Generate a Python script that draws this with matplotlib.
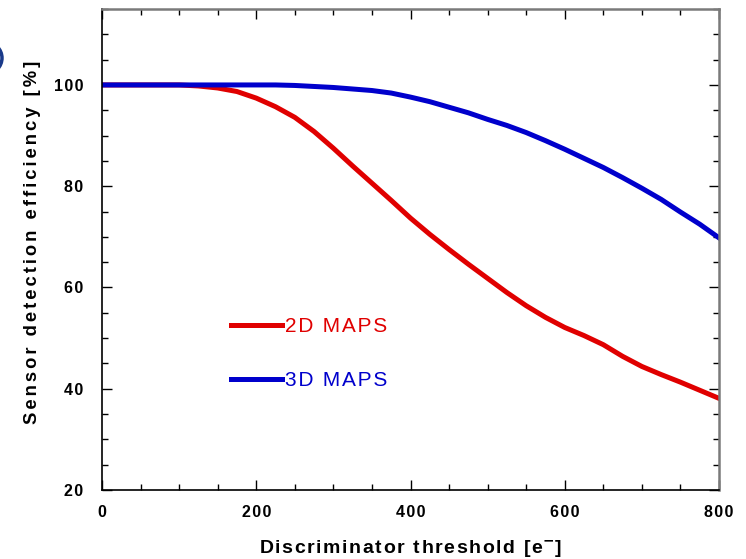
import matplotlib
matplotlib.use("Agg")
import matplotlib.pyplot as plt
from matplotlib.ticker import MultipleLocator
from matplotlib.patches import Circle

# Data
threshold = [0, 25, 50, 75, 100, 125, 150, 175, 200, 225, 250, 275, 300, 325, 350, 375, 400,
             425, 450, 475, 500, 525, 550, 575, 600, 625, 650, 675, 700, 725, 750, 775, 800]
eff_2d = [100.0, 100.0, 100.0, 100.0, 100.0, 99.8, 99.4, 98.7, 97.4, 95.7, 93.6, 90.8, 87.5, 84.0, 80.6, 77.2, 73.7,
          70.5, 67.5, 64.6, 61.8, 59.0, 56.4, 54.1, 52.1, 50.5, 48.7, 46.4, 44.4, 42.8, 41.3, 39.7, 38.1]
eff_3d = [100.0, 100.0, 100.0, 100.0, 100.0, 100.0, 100.0, 100.0, 100.0, 100.0, 99.9, 99.7, 99.5, 99.2, 98.9, 98.4, 97.6,
          96.7, 95.6, 94.5, 93.2, 92.0, 90.6, 89.0, 87.3, 85.5, 83.7, 81.7, 79.6, 77.4, 74.9, 72.5, 69.8]
series_labels = ["2D MAPS", "3D MAPS"]
x_ticks = [0, 200, 400, 600, 800]
y_ticks = [20, 40, 60, 80, 100]

plt.rcParams['font.family'] = ['Liberation Sans', 'DejaVu Sans']

HS = '\u200a'


def spaced(s, n=1):
    return (HS * n).join(s)


W, H = 746, 559
fig = plt.figure(figsize=(W / 100, H / 100), dpi=100)
ax = fig.add_axes([102 / W, 1 - 490 / H, (719 - 102) / W, (490 - 9) / H])

red = '#e00000'
blue = '#0000cc'
l1, = ax.plot(threshold, eff_2d, color=red, lw=3.6, label=spaced(series_labels[0]))
l2, = ax.plot(threshold, eff_3d, color=blue, lw=3.6, label=spaced(series_labels[1]))

ax.set_xlim(0, 800)
ax.set_ylim(20, 115)
ax.set_xticks(x_ticks)
ax.set_yticks(y_ticks)
ax.set_xticklabels([spaced(str(v)) for v in x_ticks])
ax.set_yticklabels([spaced(str(v)) for v in y_ticks])
ax.xaxis.set_minor_locator(MultipleLocator(50))
ax.yaxis.set_minor_locator(MultipleLocator(5))
ax.tick_params(which='both', direction='in', top=True, right=True, width=1, colors='black')
ax.tick_params(which='major', length=7)
ax.tick_params(which='minor', length=4.5)
ax.tick_params(axis='x', which='major', pad=11)
ax.tick_params(axis='y', which='major', pad=13.5)
for lab in ax.get_xticklabels() + ax.get_yticklabels():
    lab.set_fontweight('bold')
    lab.set_fontsize(11.5)

for side in ['left', 'bottom']:
    ax.spines[side].set_color('black')
    ax.spines[side].set_linewidth(1.2)
for side in ['top', 'right']:
    ax.spines[side].set_color('#7a7a7a')
    ax.spines[side].set_linewidth(1.8)

ax.set_xlabel(spaced('Discriminator threshold [e') + r'$^{\mathbf{-}}$' + ']',
              fontsize=14, fontweight='bold', labelpad=13)
ax.set_ylabel(spaced('Sensor detection efficiency [%]', 2), fontsize=13.2, fontweight='bold', labelpad=9.5)
ax.yaxis.label.set_y(0.515)

leg = ax.legend(handles=[l1, l2], loc='upper left', bbox_to_anchor=(0.178, 0.399),
                frameon=False, fontsize=15, handlelength=2.45, handletextpad=0.15,
                labelspacing=1.7, labelcolor='linecolor')

# cropped blue circle artifact at left edge
circ = Circle((-14, H - 58), 16, transform=None, fill=False, edgecolor='#1a3a8a', lw=2.5)
fig.patches.append(circ)

fig.savefig('out.png', dpi=100)
